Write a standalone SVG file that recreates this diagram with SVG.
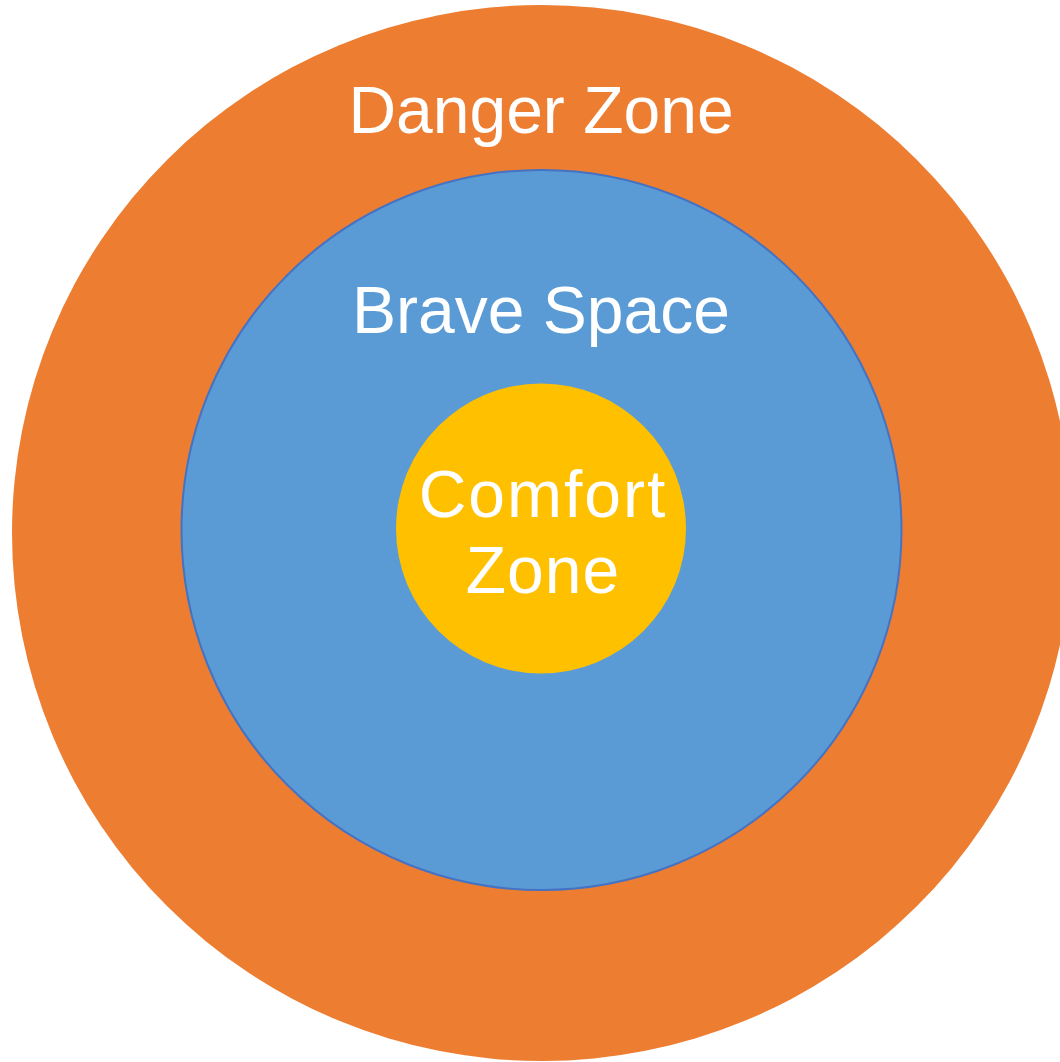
<svg xmlns="http://www.w3.org/2000/svg" width="1060" height="1062" viewBox="0 0 1060 1062">
<style>
.lbl{font-family:"Liberation Sans",Arial,sans-serif;font-size:66px;fill:#ffffff;text-anchor:middle}
</style>
<rect width="1060" height="1062" fill="#ffffff"/>
<g id="danger-zone">
<ellipse cx="542" cy="533" rx="530" ry="528" fill="#ED7D31"/>
<text class="lbl" x="541" y="133">Danger Zone</text>
</g>
<g id="brave-space">
<circle cx="541.5" cy="530" r="360" fill="#5B9BD5" stroke="#4472C4" stroke-width="2"/>
<text class="lbl" x="541" y="333">Brave Space</text>
</g>
<g id="comfort-zone">
<circle cx="541" cy="528.5" r="145" fill="#FFC000"/>
<text class="lbl" x="543" y="517" letter-spacing="2">Comfort</text>
<text class="lbl" x="543" y="593" letter-spacing="1">Zone</text>
</g>
<g id="connectors"/>
</svg>
